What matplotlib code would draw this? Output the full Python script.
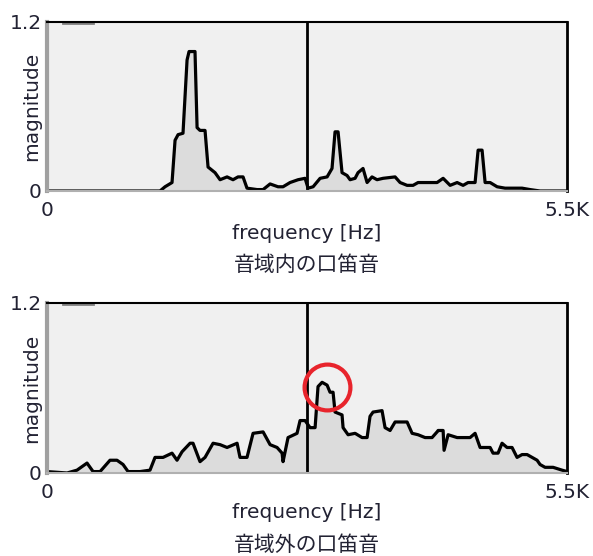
import matplotlib
matplotlib.use("Agg")
import matplotlib.pyplot as plt

plt.rcParams['font.family'] = ['DejaVu Sans', 'Noto Sans CJK JP']

# whistle inside the vocal range (top)
freq_in = [0, 1195, 1248, 1322, 1354, 1386, 1438, 1481, 1502, 1565, 1587, 1618, 1671,
           1703, 1777, 1830, 1904, 1967, 2020, 2073, 2115, 2221, 2285, 2359, 2443, 2496,
           2570, 2655, 2729, 2761, 2814, 2888, 2962, 3014, 3046, 3078, 3120, 3173, 3205,
           3258, 3289, 3342, 3385, 3437, 3490, 3554, 3681, 3734, 3808, 3871, 3924, 4019,
           4125, 4189, 4263, 4337, 4400, 4453, 4527, 4559, 4601, 4633, 4686, 4760, 4844,
           4929, 5024, 5109, 5214, 5500]
mag_in = [0, 0, 0.03, 0.06, 0.36, 0.40, 0.41, 0.93, 0.99, 0.99, 0.45, 0.43, 0.43,
          0.17, 0.13, 0.08, 0.10, 0.08, 0.10, 0.10, 0.02, 0.01, 0.01, 0.05, 0.03, 0.03,
          0.06, 0.08, 0.09, 0.02, 0.03, 0.09, 0.10, 0.16, 0.42, 0.42, 0.13, 0.11, 0.08,
          0.09, 0.13, 0.16, 0.06, 0.10, 0.08, 0.09, 0.10, 0.06, 0.04, 0.04, 0.06, 0.06,
          0.06, 0.09, 0.04, 0.06, 0.04, 0.06, 0.06, 0.29, 0.29, 0.06, 0.06, 0.03, 0.02,
          0.02, 0.02, 0.01, 0.0, 0.0]

# whistle outside the vocal range (bottom)
freq_out = [0, 212, 317, 423, 487, 561, 666, 740, 804, 857, 984, 1089, 1142, 1227,
            1322, 1375, 1428, 1513, 1544, 1618, 1671, 1756, 1830, 1904, 2010, 2041, 2115,
            2179, 2285, 2359, 2433, 2486, 2496, 2549, 2644, 2676, 2729, 2782, 2835, 2866,
            2909, 2962, 2993, 3025, 3046, 3120, 3131, 3184, 3258, 3332, 3385, 3416, 3448,
            3543, 3575, 3628, 3681, 3808, 3861, 3924, 3998, 4072, 4125, 4136, 4189, 4199,
            4242, 4337, 4400, 4474, 4527, 4580, 4633, 4686, 4717, 4770, 4812, 4865, 4918,
            4971, 5024, 5077, 5130, 5183, 5214, 5267, 5352, 5447, 5500]
mag_out = [0.01, 0, 0.02, 0.07, 0.01, 0.01, 0.09, 0.09, 0.06, 0.01, 0.01, 0.02, 0.11, 0.11,
           0.14, 0.09, 0.15, 0.21, 0.21, 0.08, 0.11, 0.21, 0.20, 0.18, 0.21, 0.11, 0.11,
           0.28, 0.29, 0.20, 0.18, 0.14, 0.08, 0.25, 0.28, 0.37, 0.37, 0.32, 0.32, 0.61,
           0.64, 0.62, 0.57, 0.57, 0.43, 0.41, 0.32, 0.27, 0.28, 0.25, 0.25, 0.40, 0.43,
           0.44, 0.32, 0.30, 0.36, 0.36, 0.28, 0.27, 0.25, 0.25, 0.29, 0.30, 0.30, 0.16,
           0.27, 0.25, 0.25, 0.25, 0.28, 0.18, 0.18, 0.18, 0.14, 0.14, 0.21, 0.18, 0.18,
           0.11, 0.13, 0.13, 0.11, 0.09, 0.06, 0.04, 0.04, 0.02, 0.01]

f_max = 5500
mag_max = 1.2
center_freq = 2750
circle_at = (2962, 0.607)
captions = ['音域内の口笛音', '音域外の口笛音']

text_col = '#222233'

fig = plt.figure(figsize=(5.93, 5.56), dpi=100)
ax_top = fig.add_axes([0.0793, 0.6565, 0.877, 0.304])
ax_bot = fig.add_axes([0.0793, 0.1493, 0.877, 0.3058])


def draw_panel(ax, freq, mag):
    ax.set_facecolor('#f0f0f0')
    ax.fill_between(freq, mag, 0, color='#dcdcdc', lw=0)
    ax.plot(freq, mag, color='black', lw=2.3)
    ax.axvline(center_freq, color='black', lw=2)
    ax.plot([170, 490], [1.19, 1.19], color='#808080', lw=2)
    ax.set_xlim(0, f_max)
    ax.set_ylim(0, mag_max)
    ax.set_xticks([0, f_max])
    ax.set_xticklabels(['0', '5.5K'])
    ax.set_yticks([0, mag_max])
    ax.set_yticklabels(['0', '1.2'])
    ax.tick_params(length=0, labelsize=14.5, colors=text_col)
    ax.tick_params(axis='x', pad=7)
    ax.tick_params(axis='y', pad=4)
    ax.set_ylabel('magnitude', fontsize=14.5, color=text_col, va='center')
    ax.yaxis.set_label_coords(-0.029, 0.5)
    ax.spines['top'].set_color('black')
    ax.spines['top'].set_linewidth(1.5)
    ax.spines['right'].set_color('black')
    ax.spines['right'].set_linewidth(2)
    ax.spines['left'].set_color('#a0a0a0')
    ax.spines['left'].set_linewidth(3)
    ax.spines['bottom'].set_color('#b0b0b0')
    ax.spines['bottom'].set_linewidth(1.5)


draw_panel(ax_top, freq_in, mag_in)
draw_panel(ax_bot, freq_out, mag_out)

ax_bot.plot([circle_at[0]], [circle_at[1]], marker='o', markersize=33,
            mfc='none', mec='#e8242c', mew=3)

xc = 307 / 593
fig.text(xc, 1 - 233 / 556, 'frequency [Hz]', ha='center', va='center', fontsize=14.5, color=text_col)
fig.text(xc, 1 - 265 / 556, captions[0], ha='center', va='center', fontsize=15, color=text_col)
fig.text(xc, 1 - 513 / 556, 'frequency [Hz]', ha='center', va='center', fontsize=14.5, color=text_col)
fig.text(xc, 1 - 545 / 556, captions[1], ha='center', va='center', fontsize=15, color=text_col)

fig.savefig('out.png', dpi=100, facecolor='white')
